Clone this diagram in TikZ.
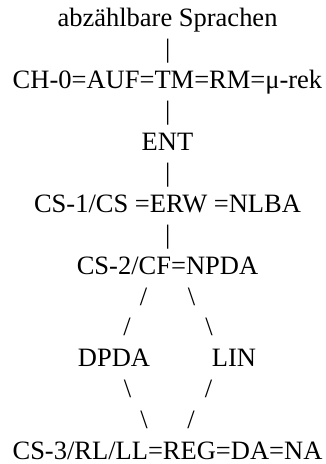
\documentclass[tikz,border=0pt]{standalone}
\usepackage{fontspec}
\setmainfont{Liberation Serif}
\begin{document}
\begin{tikzpicture}[x=1pt,y=1pt,
  txt/.style={anchor=base,inner sep=0pt,outer sep=0pt,
    font=\fontsize{26.5pt}{31pt}\selectfont}]
  \useasboundingbox (0,0) rectangle (325,464);
  % class names, one per text line, centred on the axis
  \node[txt] (enum) at (167.5,437.0) {abzählbare Sprachen};
  \node[txt] (bar1) at (167.7,406.1) {|};
  \node[txt] (ch0)  at (167.5,375.2) {CH-0=AUF=TM=RM=μ-rek};
  \node[txt] (bar2) at (167.7,344.3) {|};
  \node[txt] (ent)  at (167.5,313.4) {ENT};
  \node[txt] (bar3) at (167.7,282.5) {|};
  \node[txt] (cs1)  at (167.5,251.6) {CS-1/CS =ERW =NLBA};
  \node[txt] (bar4) at (167.7,220.7) {|};
  \node[txt] (cs2)  at (167.5,189.8) {CS-2/CF=NPDA};
  % the diamond between context-free and regular languages
  \node[txt] (sl1)  at (143.5,158.9) {/};
  \node[txt] (bs1)  at (191.5,158.9) {\symbol{92}};
  \node[txt] (sl2)  at (127.0,128.0) {/};
  \node[txt] (bs2)  at (209.0,128.0) {\symbol{92}};
  \node[txt] (dpda) at (114.0,97.1) {DPDA};
  \node[txt] (lin)  at (234.0,97.1) {LIN};
  \node[txt] (bs3)  at (127.5,66.2) {\symbol{92}};
  \node[txt] (sl3)  at (208.5,66.2) {/};
  \node[txt] (bs4)  at (144.0,35.3) {\symbol{92}};
  \node[txt] (sl4)  at (191.0,35.3) {/};
  \node[txt] (cs3)  at (167.5,4.4) {CS-3/RL/LL=REG=DA=NA};
\end{tikzpicture}
\end{document}
